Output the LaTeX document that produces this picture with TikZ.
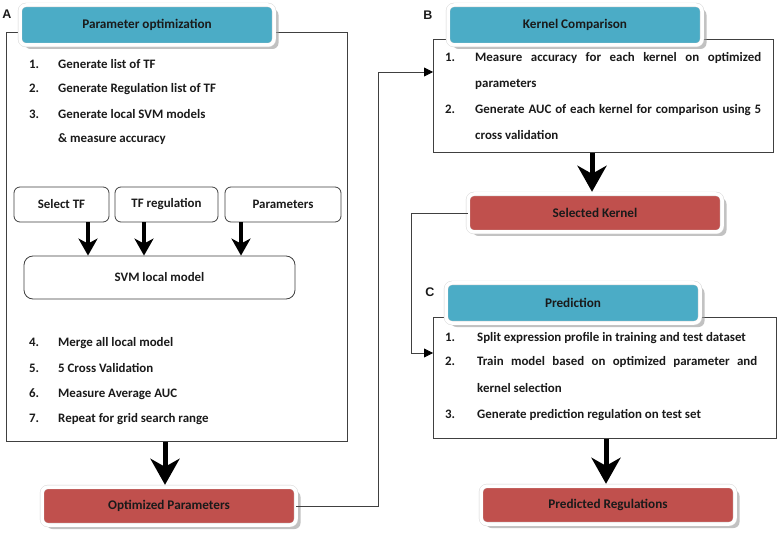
\documentclass[tikz,border=0pt]{standalone}
\usepackage{fontspec}
\setmainfont{Carlito}
\newfontfamily\lblfont{Liberation Sans}
\usetikzlibrary{arrows.meta,shadows}
\definecolor{hdrblue}{HTML}{4BACC6}
\definecolor{boxred}{HTML}{C0504D}
\definecolor{linegray}{HTML}{404040}
\definecolor{txt}{HTML}{1A1A1A}
\begin{document}
\begin{tikzpicture}[x=1pt,y=-1pt,
  font=\fontsize{12.9}{15}\selectfont\bfseries,
  every node/.style={text=txt},
  panel/.style={draw=linegray, line width=0.8pt, fill=white, inner sep=0pt, anchor=north west},
  badge/.style={rounded corners=6pt, draw=gray!35, double=white, double distance=3.5pt, line width=0.4pt,
    minimum width=254pt, minimum height=40pt, inner sep=0pt,
    drop shadow={shadow xshift=4.5pt, shadow yshift=-4pt, fill=gray!80, opacity=0.6}},
  header/.style={badge, fill=hdrblue, font=\fontsize{13.2}{15}\selectfont\bfseries},
  result/.style={badge, fill=boxred, minimum height=38pt, font=\fontsize{13.2}{15}\selectfont\bfseries},
  smallbox/.style={draw=linegray, line width=0.8pt, rounded corners=6pt, fill=white, inner sep=0pt},
  item/.style={anchor=west, inner sep=0pt},
  lbl/.style={font=\lblfont\fontsize{12.5}{14}\selectfont\bfseries, inner sep=0pt},
  smallarrow/.style={line width=4pt, -{Stealth[length=17pt, width=19pt, inset=5pt]}},
  bigarrow/.style={line width=5pt, shorten >=2pt, -{Stealth[length=26pt, width=29pt, inset=8pt]}},
  thinarrow/.style={draw=linegray, line width=0.8pt, -{Triangle[length=9pt, width=9pt, color=black]}}
]
\useasboundingbox (0,0) rectangle (778,534);

% ---- panels
\node[panel, minimum width=341pt, minimum height=409pt] (pA) at (6,32) {};
\node[panel, minimum width=340pt, minimum height=113pt] (pB) at (433,39) {};
\node[panel, minimum width=343pt, minimum height=121pt] (pC) at (433,317) {};

% ---- headers
\node[header] (hA) at (147,25) {Parameter optimization};
\node[header] (hB) at (575,25) {Kernel Comparison};
\node[header] (hC) at (573,303) {Prediction};

% ---- labels
\node[lbl] (lA) at (7,14) {A};
\node[lbl] (lB) at (428,15) {B};
\node[lbl] (lC) at (430,292) {C};

% ---- panel A items
\node[item] (a1) at (29,64) {\makebox[29pt][l]{1.}Generate list of TF};
\node[item] (a2) at (29,89) {\makebox[29pt][l]{2.}Generate Regulation list of TF};
\node[item] (a3) at (29,114) {\makebox[29pt][l]{3.}Generate local SVM models};
\node[item] (a3b) at (58,139) {\& measure accuracy};
\node[item] (a4) at (29,343) {\makebox[29pt][l]{4.}Merge all local model};
\node[item] (a5) at (29,368) {\makebox[29pt][l]{5.}5 Cross Validation};
\node[item] (a6) at (29,394) {\makebox[29pt][l]{6.}Measure Average AUC};
\node[item] (a7) at (29,419) {\makebox[29pt][l]{7.}Repeat for grid search range};

% ---- small boxes
\node[smallbox, minimum width=95pt, minimum height=35pt] (selTF) at (61.5,204.5) {Select TF};
\node[smallbox, minimum width=103pt, minimum height=35pt] (tfreg) at (166.5,204.5) {TF regulation};
\node[smallbox, minimum width=116pt, minimum height=35pt] (params) at (283,204.5) {Parameters};
\node[smallbox, rounded corners=9pt, minimum width=271pt, minimum height=43pt] (svm) at (159.5,277.5) {SVM local model};

\coordinate (s1) at ([xshift=26.5pt]selTF.south);
\coordinate (s2) at ([xshift=-22.5pt]tfreg.south);
\coordinate (s3) at ([xshift=-42pt]params.south);
\draw[smallarrow] (s1) -- (s1 |- svm.north);
\draw[smallarrow] (s2) -- (s2 |- svm.north);
\draw[smallarrow] (s3) -- (s3 |- svm.north);

% ---- panel B items
\node[item] (b1) at (445,58) {\makebox[30pt][l]{1.}\makebox[286pt][s]{Measure accuracy for each kernel on optimized}};
\node[item] (b1b) at (475,84) {parameters};
\node[item] (b2) at (445,110) {\makebox[30pt][l]{2.}\makebox[286pt][s]{Generate AUC of each kernel for comparison using 5}};
\node[item] (b2b) at (475,135) {cross validation};

% ---- panel C items
\node[item] (c1) at (445,338) {\makebox[32pt][l]{1.}Split expression profile in training and test dataset};
\node[item] (c2) at (445,362) {\makebox[32pt][l]{2.}\makebox[280pt][s]{Train model based on optimized parameter and}};
\node[item] (c2b) at (477,388) {kernel selection};
\node[item] (c3) at (445,415) {\makebox[32pt][l]{3.}Generate prediction regulation on test set};

% ---- result boxes
\node[result] (opt) at (169,506) {Optimized Parameters};
\node[result] (sel) at (595,213) {Selected Kernel};
\node[result] (pred) at (608,505) {Predicted Regulations};

% ---- big arrows
\coordinate (a0) at ([xshift=-4pt]opt.north);
\draw[bigarrow] (a0 |- pA.south) -- (a0);
\coordinate (b0) at ([xshift=-3pt]sel.north);
\draw[bigarrow] (b0 |- pB.south) -- (b0);
\coordinate (c0) at ([xshift=-2pt]pred.north);
\draw[bigarrow] (c0 |- pC.south) -- (c0);

% ---- thin connectors
\coordinate (jB) at (378,72);
\draw[thinarrow] (opt.east) -| (jB) -- (jB -| pB.west);
\coordinate (jC) at (411,353);
\draw[thinarrow] (sel.west) -| (jC) -- (jC -| pC.west);
\end{tikzpicture}
\end{document}
